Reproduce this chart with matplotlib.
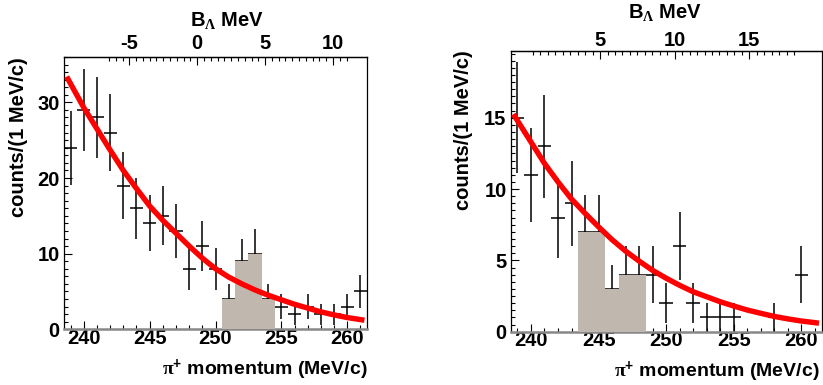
import numpy as np
import matplotlib
matplotlib.use("Agg")
import matplotlib.pyplot as plt
from matplotlib.ticker import MultipleLocator, FixedLocator

plt.rcParams['font.family'] = ['Liberation Sans', 'DejaVu Sans']
plt.rcParams['font.weight'] = 'bold'
plt.rcParams['axes.labelweight'] = 'bold'
plt.rcParams['axes.unicode_minus'] = False
plt.rcParams['mathtext.fontset'] = 'custom'
plt.rcParams['mathtext.rm'] = 'Liberation Serif'
plt.rcParams['mathtext.it'] = 'Liberation Serif:italic'
plt.rcParams['mathtext.bf'] = 'Liberation Sans:bold'

# pi+ momentum bins (MeV/c)
p_bins = [239, 240, 241, 242, 243, 244, 245, 246, 247, 248, 249, 250,
          251, 252, 253, 254, 255, 256, 257, 258, 259, 260, 261]

# left panel
counts_l = [24, 29, 28, 26, 19, 16, 14, 15, 13, 8, 11, 8,
            4, 9, 10, 4, 3, 2, 3, 2, 2, 3, 5]
err_l = [4.9, 5.4, 5.3, 5.1, 4.4, 4.0, 3.7, 3.9, 3.6, 2.8, 3.3, 2.8,
         2.0, 3.0, 3.2, 2.0, 1.7, 1.4, 1.7, 1.4, 1.4, 1.7, 2.2]
hist_edges_l = [250.5, 251.5, 252.5, 253.5, 254.5]
hist_l = [4, 9, 10, 4]
fit_p_l = [238.7, 240, 241, 242, 243, 244, 245, 246, 247, 248, 249, 250,
           251, 252, 253, 254, 255, 256, 257, 258, 259, 260, 261.3]
fit_l = [33.4, 29.3, 26.5, 23.7, 21.0, 18.6, 16.3, 14.4, 12.7, 11.0, 9.4, 8.0,
         6.9, 6.0, 5.2, 4.5, 3.9, 3.3, 2.8, 2.3, 1.9, 1.55, 1.2]

# right panel
counts_r = [15, 11, 13, 8, 9, 7, 7, 3, 4, 4, 4, 2,
            6, 2, 1, 1, 1, 0, 0, 1, 0, 4, 0]
err_r = [3.9, 3.3, 3.6, 2.8, 3.0, 2.6, 2.6, 1.7, 2.0, 2.0, 2.0, 1.4,
         2.4, 1.4, 1.0, 1.0, 1.0, 0, 0, 1.0, 0, 2.0, 0]
hist_edges_r = [243.5, 245.5, 246.5, 248.5]
hist_r = [7, 3, 4]
fit_p_r = fit_p_l
fit_r = [15.25, 13.3, 11.8, 10.5, 9.3, 8.3, 7.35, 6.45, 5.65, 4.95, 4.3, 3.75,
         3.25, 2.8, 2.45, 2.1, 1.8, 1.52, 1.29, 1.07, 0.9, 0.75, 0.6]

# B_Lambda scale: p = p0 + slope * B
b_map_l = (248.61, 1.0307)
b_map_r = (239.59, 1.104)
b_ticks_l = [-5, 0, 5, 10]
b_ticks_r = [5, 10, 15]
b_range_l = (-6.5, 11.0)
b_range_r = (0.5, 18.0)

fig = plt.figure(figsize=(8.23, 3.85), dpi=100)

panels = [
    dict(rect=[0.0778, 0.1447, 0.3682, 0.7073], counts=counts_l, err=err_l,
         edges=hist_edges_l, hist=hist_l, fit_p=fit_p_l, fit=fit_l, ymax=36.0,
         ymaj=10, ymin=1, bmap=b_map_l, bticks=b_ticks_l, brange=b_range_l,
         bpad=3, ylab_x=-0.119, xlab=(1.0, -0.105), btitle=(0.2755, 0.948)),
    dict(rect=[0.6205, 0.1384, 0.3779, 0.7299], counts=counts_r, err=err_r,
         edges=hist_edges_r, hist=hist_r, fit_p=fit_p_r, fit=fit_r, ymax=19.7,
         ymaj=5, ymin=0.5, bmap=b_map_r, bticks=b_ticks_r, brange=b_range_r,
         bpad=0.5, ylab_x=-0.121, xlab=(0.994, -0.098), btitle=(0.808, 0.9675)),
]

for pn in panels:
    ax = fig.add_axes(pn['rect'])
    c = np.array(pn['counts'], dtype=float)
    e = np.array(pn['err'])
    x = np.array(p_bins, dtype=float)
    m = c > 0
    ax.errorbar(x[m], c[m], yerr=e[m], xerr=0.5, fmt='none', ecolor='black',
                elinewidth=1.1, capsize=0, zorder=2)
    ax.stairs(pn['hist'], pn['edges'], fill=True, color='#c0b8af', zorder=3)
    ax.plot(pn['fit_p'], pn['fit'], color='#ff0000', lw=3.9, zorder=4,
            solid_capstyle='butt')

    ax.set_xlim(238.5, 261.5)
    ax.set_ylim(0, pn['ymax'])
    ax.xaxis.set_major_locator(MultipleLocator(5))
    ax.xaxis.set_minor_locator(MultipleLocator(1))
    ax.yaxis.set_major_locator(MultipleLocator(pn['ymaj']))
    ax.yaxis.set_minor_locator(MultipleLocator(pn['ymin']))
    ax.tick_params(which='both', direction='in', top=False, right=False,
                   labelsize=14.5, width=0.8)
    ax.tick_params(which='major', length=6)
    ax.tick_params(which='minor', length=3)
    ax.tick_params(axis='x', pad=-0.5)
    ax.tick_params(axis='y', pad=3)
    for s in ['left', 'right', 'top']:
        ax.spines[s].set_linewidth(0.9)
    ax.spines['bottom'].set_color('#888888')
    ax.spines['bottom'].set_linewidth(1.8)

    ax.set_ylabel('counts/(1 MeV/c)', fontsize=14.5, loc='top')
    ax.yaxis.set_label_coords(pn['ylab_x'], 1.0)
    ax.set_xlabel(r'$\mathrm{\pi}^{\mathbf{+}}$ momentum (MeV/c)',
                  fontsize=14, loc='right')
    ax.xaxis.set_label_coords(*pn['xlab'])

    p0, sl = pn['bmap']
    sec = ax.secondary_xaxis('top', functions=(lambda p, p0=p0, sl=sl: (p - p0) / sl,
                                               lambda b, p0=p0, sl=sl: b * sl + p0))
    sec.xaxis.set_major_locator(FixedLocator(pn['bticks']))
    b0, b1 = pn['brange']
    sec.xaxis.set_minor_locator(FixedLocator(np.arange(b0, b1 + 0.01, 0.5)))
    sec.tick_params(which='both', direction='in', labelsize=14.5, width=0.8,
                    pad=pn['bpad'])
    sec.tick_params(which='major', length=6)
    sec.tick_params(which='minor', length=3)
    sec.spines['top'].set_linewidth(0.9)
    fig.text(pn['btitle'][0], pn['btitle'][1], r'B$_{\Lambda}$ MeV',
             fontsize=14.5, fontweight='bold', ha='center', va='center')

fig.savefig('out.png', dpi=100)
